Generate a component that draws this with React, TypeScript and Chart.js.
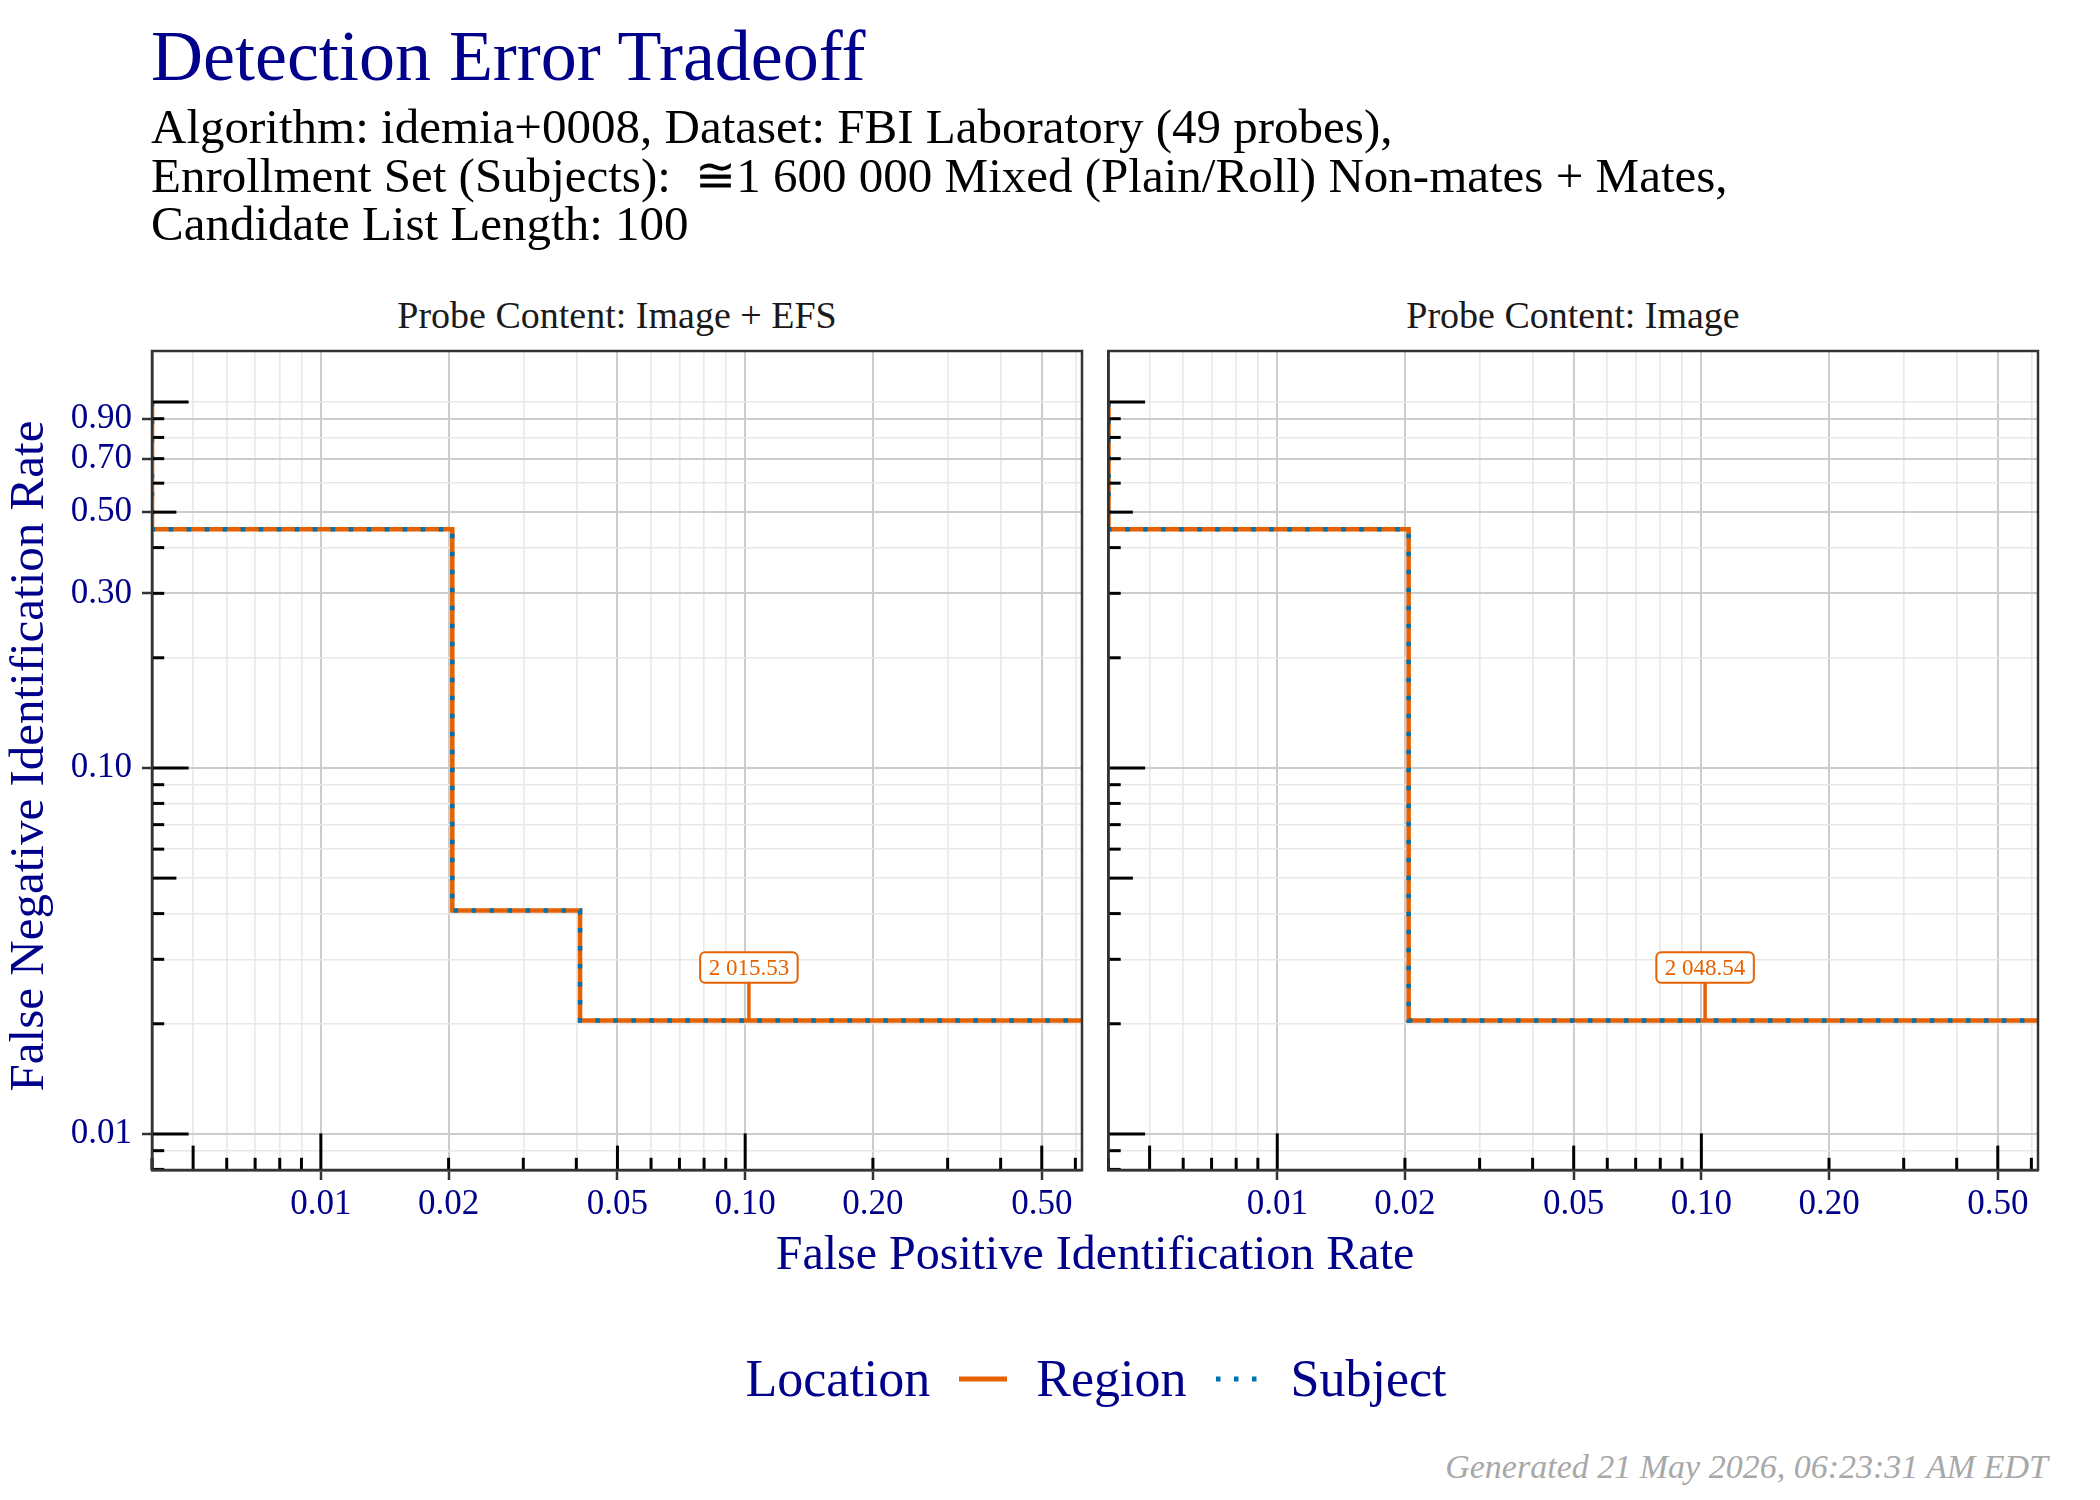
import React, { useEffect, useRef } from "react";
import { Chart, registerables } from "chart.js";

Chart.register(...registerables);

const FONT = "'Liberation Serif', 'DejaVu Serif', serif";
const NAVY = "#00008B";
const ORANGE = "#E66100";
const BLUE = "#0072B2";

// ---- data ----
const panelTitles = ["Probe Content: Image + EFS", "Probe Content: Image"];
const seriesNames = ["Region", "Subject"];

// Probe Content: Image + EFS  (FPIR, FNIR step corners)
const efsFpir = [0.004, 0.004, 1 / 49, 2 / 49, 1.0];
const efsFnir = [1.0, 22 / 49, 2 / 49, 1 / 49, 1 / 49];
// Probe Content: Image
const imgFpir = [0.004, 0.004, 1 / 49, 1.0];
const imgFnir = [1.0, 22 / 49, 1 / 49, 1 / 49];

// threshold annotation per panel
const thresholdFpir = [5 / 49, 5 / 49];
const thresholdFnir = [1 / 49, 1 / 49];
const thresholdLabels = ["2 015.53", "2 048.54"];

// axes
const xRange = [0.004, 0.622];
const yRange = [0.00797, 1.378];
const xMajor = [0.01, 0.02, 0.05, 0.1, 0.2, 0.5];
const xMajorLabels = ["0.01", "0.02", "0.05", "0.10", "0.20", "0.50"];
const xMinor = [0.005, 0.006, 0.007, 0.008, 0.009, 0.03, 0.04, 0.06, 0.07, 0.08, 0.09, 0.3, 0.4, 0.6];
const yMajor = [0.01, 0.1, 0.3, 0.5, 0.7, 0.9];
const yMajorLabels = ["0.01", "0.10", "0.30", "0.50", "0.70", "0.90"];
const yMinor = [0.008, 0.009, 0.02, 0.03, 0.04, 0.05, 0.06, 0.07, 0.08, 0.09, 0.2, 0.4, 0.6, 0.8, 1.0];
const logTickMantissas = [1, 2, 3, 4, 5, 6, 7, 8, 9];
const logTickDecades = [0.001, 0.01, 0.1, 1];

const xLabelMap = new Map<number, string>(xMajor.map((v, i) => [v, xMajorLabels[i]]));
const yLabelMap = new Map<number, string>(yMajor.map((v, i) => [v, yMajorLabels[i]]));

const panelData = [
  { fpir: efsFpir, fnir: efsFnir },
  { fpir: imgFpir, fnir: imgFnir },
];

function decorPlugin(panel: number) {
  return {
    id: "decor" + panel,
    afterDatasetsDraw(chart: any) {
      const ctx = chart.ctx;
      const a = chart.chartArea;
      const xs = chart.scales.x;
      const ys = chart.scales.y;
      ctx.save();
      // log ticks (annotation_logticks)
      ctx.strokeStyle = "#000";
      ctx.lineWidth = 3;
      ctx.lineCap = "butt";
      for (const d of logTickDecades) {
        for (const m of logTickMantissas) {
          const v = m * d;
          const len = m === 1 ? 36.6 : m === 5 ? 24.4 : 12.2;
          if (v >= yRange[0] && v <= yRange[1]) {
            const py = ys.getPixelForValue(v);
            ctx.beginPath();
            ctx.moveTo(a.left, py);
            ctx.lineTo(a.left + len, py);
            ctx.stroke();
          }
          if (v >= xRange[0] && v <= xRange[1]) {
            const px = xs.getPixelForValue(v);
            ctx.beginPath();
            ctx.moveTo(px, a.bottom);
            ctx.lineTo(px, a.bottom - len);
            ctx.stroke();
          }
        }
      }
      // threshold annotation
      const px = xs.getPixelForValue(thresholdFpir[panel]);
      const py = ys.getPixelForValue(thresholdFnir[panel]);
      const boxBottom = py - 37.7;
      const boxH = 30.7;
      ctx.strokeStyle = ORANGE;
      ctx.lineWidth = 3.5;
      ctx.beginPath();
      ctx.moveTo(px, py);
      ctx.lineTo(px, boxBottom);
      ctx.stroke();
      ctx.font = `23px ${FONT}`;
      const tw = ctx.measureText(thresholdLabels[panel]).width;
      const boxW = tw + 17;
      const bx = px - boxW / 2;
      const by = boxBottom - boxH;
      ctx.beginPath();
      ctx.roundRect(bx, by, boxW, boxH, 5);
      ctx.fillStyle = "#fff";
      ctx.fill();
      ctx.lineWidth = 2;
      ctx.stroke();
      ctx.fillStyle = ORANGE;
      ctx.textAlign = "center";
      ctx.textBaseline = "middle";
      ctx.fillText(thresholdLabels[panel], px, by + boxH / 2 + 1);
      ctx.restore();
    },
    afterDraw(chart: any) {
      const ctx = chart.ctx;
      const a = chart.chartArea;
      ctx.save();
      ctx.strokeStyle = "#333";
      ctx.lineWidth = 2.5;
      ctx.strokeRect(a.left, a.top, a.right - a.left, a.bottom - a.top);
      ctx.restore();
    },
  };
}

function makeChart(canvas: HTMLCanvasElement, panel: number) {
  const first = panel === 0;
  const d = panelData[panel];
  const regionPts = d.fpir.map((x, i) => ({ x, y: d.fnir[i] }));
  const subjectPts = d.fpir.map((x, i) => ({ x, y: d.fnir[i] }));
  const isMajorX = (v: number) => xLabelMap.has(v);
  const isMajorY = (v: number) => yLabelMap.has(v);
  return new Chart(canvas, {
    type: "line",
    data: {
      datasets: [
        {
          label: seriesNames[0],
          data: regionPts,
          borderColor: ORANGE,
          borderWidth: 4.5,
          stepped: "before",
          pointRadius: 0,
          fill: false,
          clip: 0,
          order: 2,
        } as any,
        {
          label: seriesNames[1],
          data: subjectPts,
          borderColor: BLUE,
          borderWidth: 4.5,
          borderDash: [4.5, 13.5],
          stepped: "before",
          pointRadius: 0,
          fill: false,
          clip: 0,
          order: 1,
        } as any,
      ],
    },
    options: {
      responsive: false,
      animation: false,
      events: [],
      layout: { padding: first ? { top: 51, right: 13, bottom: 0, left: 0 } : { top: 51, right: 62, bottom: 0, left: 0 } },
      plugins: { legend: { display: false }, tooltip: { enabled: false }, title: { display: false } },
      scales: {
        x: {
          type: "logarithmic",
          min: xRange[0],
          max: xRange[1],
          afterBuildTicks: (s: any) => {
            s.ticks = [...xMinor, ...xMajor].sort((a, b) => a - b).map((v) => ({ value: v }));
          },
          afterFit: (s: any) => {
            s.height = 70;
          },
          ticks: {
            autoSkip: false,
            maxRotation: 0,
            minRotation: 0,
            padding: 4,
            color: NAVY,
            font: { family: FONT, size: 35 },
            callback: (v: any) => xLabelMap.get(v) ?? "",
          },
          grid: {
            color: (c: any) => (c.tick && isMajorX(c.tick.value) ? "#cccccc" : "#e8e8e8"),
            lineWidth: (c: any) => (c.tick && isMajorX(c.tick.value) ? 2 : 1.6),
            drawTicks: true,
            tickLength: 10,
            tickWidth: 2.5,
            tickColor: (c: any) => (c.tick && isMajorX(c.tick.value) ? "#333" : "rgba(0,0,0,0)"),
          },
          border: { color: "#333", width: 2.5 },
        } as any,
        y: {
          type: "logarithmic",
          min: yRange[0],
          max: yRange[1],
          afterBuildTicks: (s: any) => {
            s.ticks = [...yMinor, ...yMajor].sort((a, b) => a - b).map((v) => ({ value: v }));
          },
          afterFit: (s: any) => {
            s.width = first ? 152 : 13.5;
          },
          ticks: {
            display: first,
            autoSkip: false,
            padding: 10,
            color: NAVY,
            font: { family: FONT, size: 35 },
            callback: (v: any) => yLabelMap.get(v) ?? "",
          },
          grid: {
            color: (c: any) => (c.tick && isMajorY(c.tick.value) ? "#cccccc" : "#e8e8e8"),
            lineWidth: (c: any) => (c.tick && isMajorY(c.tick.value) ? 2 : 1.6),
            drawTicks: first,
            tickLength: 10,
            tickWidth: 2.5,
            tickColor: (c: any) => (c.tick && isMajorY(c.tick.value) ? "#333" : "rgba(0,0,0,0)"),
          },
          border: { color: "#333", width: 2.5 },
        } as any,
      },
    },
    plugins: [decorPlugin(panel)],
  });
}

const abs = (s: React.CSSProperties): React.CSSProperties => ({ position: "absolute", whiteSpace: "pre", fontFamily: FONT, ...s });

export default function App() {
  const c0 = useRef<HTMLCanvasElement>(null);
  const c1 = useRef<HTMLCanvasElement>(null);

  useEffect(() => {
    const ch0 = makeChart(c0.current!, 0);
    const ch1 = makeChart(c1.current!, 1);
    return () => {
      ch0.destroy();
      ch1.destroy();
    };
  }, []);

  return (
    <div style={{ position: "absolute", left: 0, top: 0, width: 2100, height: 1500, background: "#fff", overflow: "hidden" }}>
      <div style={abs({ left: 151, top: 19.7, fontSize: 72, lineHeight: "72px", color: NAVY })}>Detection Error Tradeoff</div>
      <div style={abs({ left: 151, top: 102, fontSize: 49, lineHeight: "49px", color: "#000" })}>
        Algorithm: idemia+0008, Dataset: FBI Laboratory (49 probes),
      </div>
      <div style={abs({ left: 151, top: 150.5, fontSize: 49, lineHeight: "49px", color: "#000" })}>
        {"Enrollment Set (Subjects):  \u22451 600 000 Mixed (Plain/Roll) Non-mates + Mates,"}
      </div>
      <div style={abs({ left: 151, top: 199, fontSize: 49, lineHeight: "49px", color: "#000" })}>Candidate List Length: 100</div>

      <div style={abs({ left: 617 - 400, width: 800, textAlign: "center", top: 296, fontSize: 38, lineHeight: "38px", color: "#1a1a1a" })}>
        {panelTitles[0]}
      </div>
      <div style={abs({ left: 1573 - 400, width: 800, textAlign: "center", top: 296, fontSize: 38, lineHeight: "38px", color: "#1a1a1a" })}>
        {panelTitles[1]}
      </div>

      <canvas ref={c0} width={1095} height={940} style={{ position: "absolute", left: 0, top: 300 }} />
      <canvas ref={c1} width={1005} height={940} style={{ position: "absolute", left: 1095, top: 300 }} />

      <div style={abs({ left: 1095 - 600, width: 1200, textAlign: "center", top: 1229, fontSize: 48, lineHeight: "48px", color: NAVY })}>
        False Positive Identification Rate
      </div>
      <div
        style={abs({
          left: 26.5 - 500,
          top: 756 - 24,
          width: 1000,
          height: 48,
          textAlign: "center",
          fontSize: 49,
          lineHeight: "48px",
          color: NAVY,
          transform: "rotate(-90deg)",
          transformOrigin: "50% 50%",
        })}
      >
        False Negative Identification Rate
      </div>

      <div
        style={{
          position: "absolute",
          left: 0,
          width: 2192,
          top: 1353,
          height: 52,
          display: "flex",
          justifyContent: "center",
          alignItems: "center",
          fontFamily: FONT,
          fontSize: 52,
          lineHeight: "52px",
          color: NAVY,
          whiteSpace: "pre",
        }}
      >
        <span>Location</span>
        <svg width={48} height={6} style={{ marginLeft: 29, marginRight: 29 }}>
          <line x1={0} y1={3} x2={48} y2={3} stroke={ORANGE} strokeWidth={5} />
        </svg>
        <span>{seriesNames[0]}</span>
        <svg width={49} height={6} style={{ marginLeft: 27, marginRight: 28 }}>
          <line x1={2} y1={3} x2={49} y2={3} stroke={BLUE} strokeWidth={5} strokeDasharray="4.5 13.5" />
        </svg>
        <span>{seriesNames[1]}</span>
      </div>

      <div style={abs({ right: 52, top: 1449.5, fontSize: 34, lineHeight: "34px", color: "#a8a8a8", fontStyle: "italic" })}>
        Generated 21 May 2026, 06:23:31 AM EDT
      </div>
    </div>
  );
}
